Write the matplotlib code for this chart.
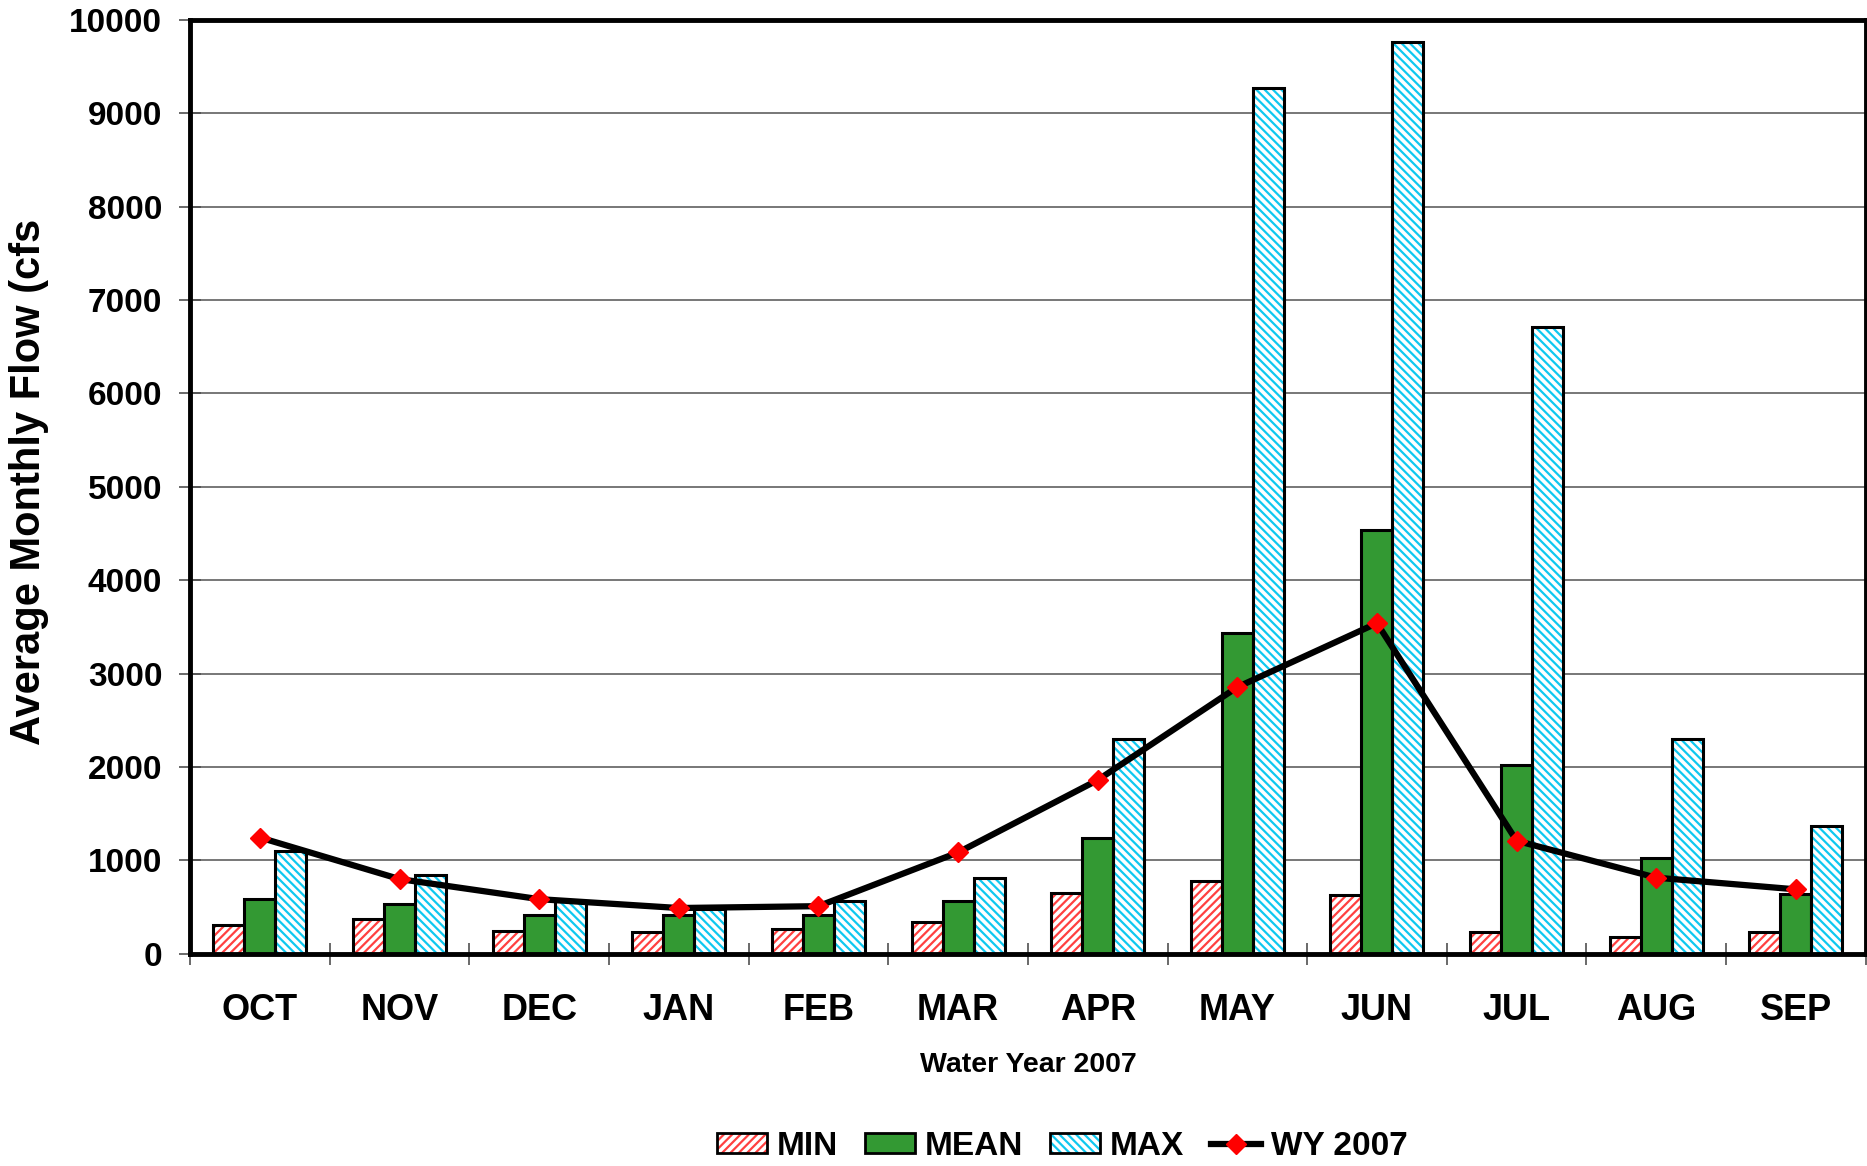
import matplotlib
matplotlib.use("Agg")
import matplotlib.pyplot as plt
import numpy as np
from matplotlib.patches import Patch
from matplotlib.lines import Line2D

months = ["OCT", "NOV", "DEC", "JAN", "FEB", "MAR", "APR", "MAY", "JUN", "JUL", "AUG", "SEP"]
flow_min = [310, 370, 240, 230, 265, 340, 650, 775, 625, 230, 180, 230]
flow_mean = [585, 535, 420, 420, 420, 560, 1235, 3440, 4535, 2025, 1030, 635]
flow_max = [1105, 840, 570, 480, 570, 815, 2305, 9275, 9760, 6715, 2305, 1365]
wy2007 = [1245, 800, 585, 490, 510, 1085, 1860, 2855, 3540, 1210, 815, 690]

plt.rcParams['font.family'] = ['Liberation Sans', 'DejaVu Sans']
plt.rcParams['hatch.linewidth'] = 1.6

fig = plt.figure(figsize=(18.67, 11.66), dpi=100)
ax = fig.add_axes([0.1018, 0.182, 0.8975, 0.801])

x = np.arange(len(months))
w = 0.222

red = "#ff4040"
cyan = "#10c8f0"
green = "#339933"
hmin = "////"
hmax = "\\\\\\\\"

# MIN
ax.bar(x - w, flow_min, w, color="white", edgecolor=red, hatch=hmin, linewidth=0, zorder=3)
ax.bar(x - w, flow_min, w, fill=False, edgecolor="black", linewidth=2.2, zorder=4)
# MEAN
ax.bar(x, flow_mean, w, color=green, edgecolor="black", linewidth=2.2, zorder=4)
# MAX
ax.bar(x + w, flow_max, w, color="white", edgecolor=cyan, hatch=hmax, linewidth=0, zorder=3)
ax.bar(x + w, flow_max, w, fill=False, edgecolor="black", linewidth=2.2, zorder=4)
# WY 2007
ax.plot(x, wy2007, color="black", linewidth=4.5, marker="D", markersize=10,
        markerfacecolor="red", markeredgecolor="red", zorder=6)

ax.set_xlim(-0.5, len(months) - 0.5)
ax.set_ylim(0, 10000)
ax.set_yticks(np.arange(0, 10001, 1000))
ax.yaxis.grid(True, color="#606060", linewidth=1.2, zorder=0)
ax.set_axisbelow(True)

ax.set_xticks(np.arange(-0.5, len(months), 1.0))
ax.set_xticklabels([])
ax.set_xticks(x, minor=True)
ax.set_xticklabels(months, minor=True)
ax.tick_params(axis="x", which="major", direction="inout", length=16, width=1.2, color="#505050")
ax.tick_params(axis="x", which="minor", length=0, pad=28, labelsize=26)
ax.tick_params(axis="y", direction="inout", length=16, width=1.2, color="#505050", labelsize=24, pad=12)
for lab in ax.get_xticklabels(minor=True) + ax.get_yticklabels():
    lab.set_fontweight("bold")

for s in ax.spines.values():
    s.set_linewidth(3.5)
    s.set_color("black")
    s.set_zorder(7)

fig.text(0.551, 0.0865, "Water Year 2007", fontsize=20.5, fontweight="bold", ha="center", va="center")
fig.text(0.0155, 0.587, "Average Monthly Flow (cfs", rotation=90, fontsize=30,
         fontweight="bold", ha="center", va="center")

h_min = (Patch(facecolor="white", edgecolor=red, hatch=hmin, linewidth=0),
         Patch(fill=False, edgecolor="black", linewidth=2))
h_mean = Patch(facecolor=green, edgecolor="black", linewidth=2)
h_max = (Patch(facecolor="white", edgecolor=cyan, hatch=hmax, linewidth=0),
         Patch(fill=False, edgecolor="black", linewidth=2))
h_wy = Line2D([], [], color="black", linewidth=4.5, marker="D", markersize=10,
              markerfacecolor="red", markeredgecolor="red")
leg = fig.legend([h_min, h_mean, h_max, h_wy], ["MIN", "MEAN", "MAX", "WY 2007"],
                 loc="center", bbox_to_anchor=(0.569, 0.017), ncol=4, frameon=False,
                 prop={"weight": "bold", "size": 24},
                 handlelength=1.5, handleheight=0.56, handletextpad=0.3, columnspacing=0.8)

fig.savefig("out.png", dpi=100)
